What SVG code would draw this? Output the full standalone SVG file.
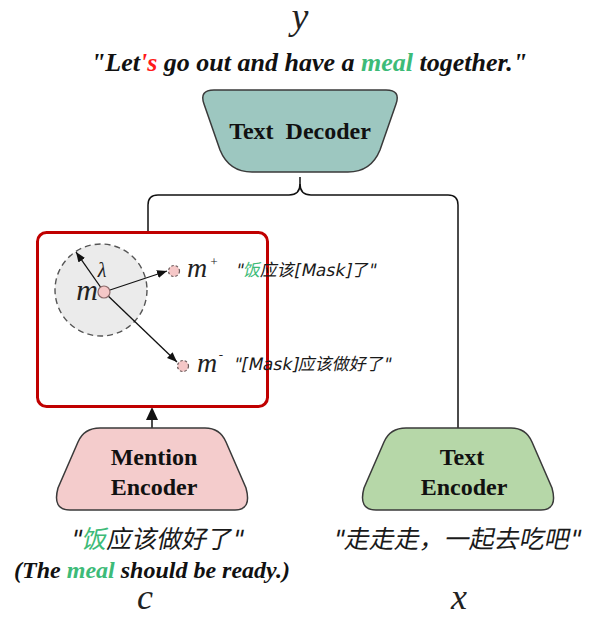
<svg xmlns="http://www.w3.org/2000/svg" width="594" height="617" viewBox="0 0 594 617">
  <defs>
    <style>
      .node { stroke: #3a3a3a; stroke-width: 1.5; }
      .label { font-family: "Liberation Serif", "Times New Roman", serif; font-weight: bold; font-size: 24px; fill: #111; text-anchor: middle; }
      .math { font-family: "Liberation Serif", "Times New Roman", serif; font-style: italic; fill: #222; }
      .caption { font-family: "Liberation Serif", "Times New Roman", serif; font-style: italic; font-weight: bold; fill: #111; }
      .cjk { font-family: "DejaVu Sans", "Noto Sans CJK SC", sans-serif; fill: #1a1a1a; }
      .green { fill: #3dbb78; }
      .wire { fill: none; stroke: #111; stroke-width: 1.5; }
      .vec { fill: none; stroke: #111; stroke-width: 1.3; }
      .dot { fill: #f5c7c7; stroke: #8c6a6a; stroke-width: 1.2; }
      .dotd { fill: #f5c7c7; stroke: #6a5a5a; stroke-width: 1.2; stroke-dasharray: 2.5 2; }
    </style>
    <marker id="head" markerUnits="userSpaceOnUse" markerWidth="12" markerHeight="10" refX="10" refY="4" orient="auto">
      <path d="M0,0 L10,4 L0,8 Z" fill="#111"/>
    </marker>
  </defs>

  <!-- output sentence -->
  <text class="math" x="300" y="29" font-size="38" text-anchor="middle">y</text>
  <text class="caption" x="309" y="71" font-size="26" text-anchor="middle">"Let<tspan fill="#ff1a1a">'s</tspan> go out and have a <tspan class="green">meal</tspan> together."</text>

  <!-- connectors -->
  <g id="connectors">
    <path class="wire" d="M300 177 L300 184 Q300 195 289 195 L158 195 Q148 195 148 205 L148 232"/>
    <path class="wire" d="M300 184 Q300 195 311 195 L448 195 Q458 195 458 205 L458 428"/>
    <line class="wire" x1="152" y1="428" x2="152" y2="419"/>
    <path d="M152 407 L158 420 L146 420 Z" fill="#111"/>
  </g>

  <!-- decoder -->
  <g id="text-decoder">
    <path class="node" fill="#9dc7c0" d="M214 90 L386 90 Q401 90 396 104 L380 150 Q371 172 348 172 L252 172 Q229 172 220 150 L204 104 Q199 90 214 90 Z"/>
    <text class="label" x="300" y="139" xml:space="preserve">Text  Decoder</text>
  </g>

  <!-- mention representation space -->
  <g id="mention-space">
    <rect x="37.5" y="232.5" width="230" height="174" rx="9" fill="#fff" stroke="#c00000" stroke-width="3"/>
    <circle cx="101" cy="290" r="46" fill="#ebebeb" stroke="#555" stroke-width="1.4" stroke-dasharray="6 4"/>
    <line class="vec" x1="104" y1="292" x2="76" y2="252" marker-end="url(#head)"/>
    <line class="vec" x1="104" y1="292" x2="167" y2="271" marker-end="url(#head)"/>
    <line class="vec" x1="104" y1="292" x2="177" y2="362" marker-end="url(#head)"/>
    <circle class="dot" cx="104" cy="292" r="6"/>
    <circle class="dotd" cx="174" cy="271" r="5.5"/>
    <circle class="dotd" cx="183" cy="366" r="5.5"/>
    <text class="math" x="98" y="300" font-size="30" text-anchor="end">m</text>
    <text class="math" x="102" y="277" font-size="20" text-anchor="middle">λ</text>
    <text class="math" x="187" y="277" font-size="28">m</text>
    <text class="math" x="214" y="266" font-size="13" text-anchor="middle">+</text>
    <text class="math" x="197" y="372" font-size="28">m</text>
    <text class="math" x="221" y="359" font-size="13" text-anchor="middle">-</text>
    <text class="cjk" transform="translate(235 276) skewX(-12)" font-size="17">"<tspan class="green">饭</tspan>应该[Mask]了"</text>
    <text class="cjk" transform="translate(233 370) skewX(-12)" font-size="17">"[Mask]应该做好了"</text>
  </g>

  <!-- mention encoder -->
  <g id="mention-encoder">
    <path class="node" fill="#f4cccc" d="M100 428 L205 428 Q220 428 226 442 L246 488 Q252 510 235 510 L70 510 Q52 510 58 488 L78 442 Q84 428 100 428 Z"/>
    <text class="label" x="154" y="465">Mention</text>
    <text class="label" x="154" y="495">Encoder</text>
  </g>

  <!-- text encoder -->
  <g id="text-encoder">
    <path class="node" fill="#b6d7a8" d="M406 428 L511 428 Q526 428 532 442 L552 488 Q558 510 541 510 L376 510 Q358 510 364 488 L384 442 Q390 428 406 428 Z"/>
    <text class="label" x="462" y="465">Text</text>
    <text class="label" x="464" y="495">Encoder</text>
  </g>

  <!-- inputs -->
  <text class="cjk" transform="translate(156 548) skewX(-12)" font-size="25" text-anchor="middle">"<tspan class="green">饭</tspan>应该做好了"</text>
  <text class="caption" x="152" y="578" font-size="24" text-anchor="middle">(The <tspan class="green">meal</tspan> should be ready.)</text>
  <text class="math" x="145" y="609" font-size="36" text-anchor="middle">c</text>
  <text class="cjk" transform="translate(456 548) skewX(-12)" font-size="25" text-anchor="middle">"走走走，一起去吃吧"</text>
  <text class="math" x="459" y="609" font-size="36" text-anchor="middle">x</text>
</svg>
